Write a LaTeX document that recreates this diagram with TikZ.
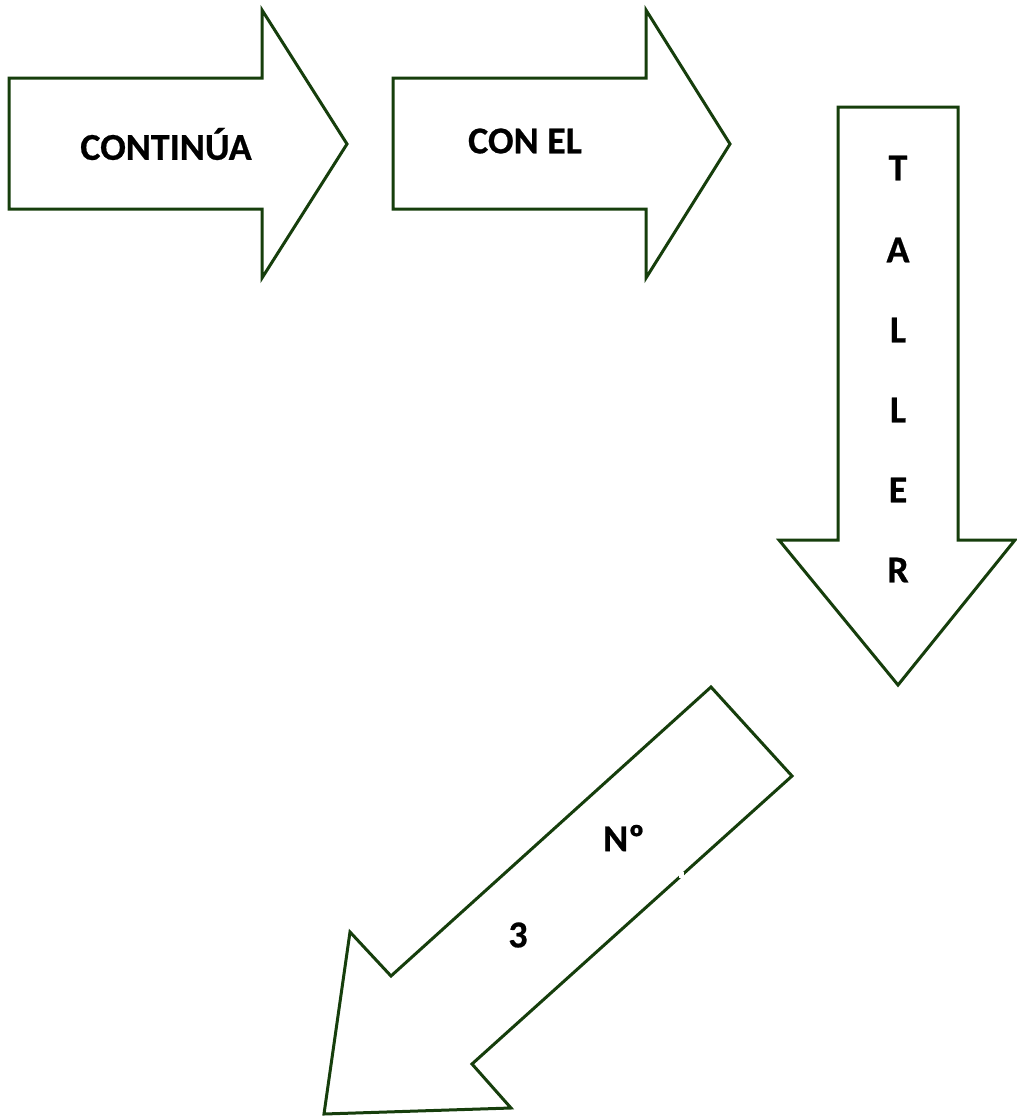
\documentclass[tikz,border=0pt]{standalone}
\usepackage{fontspec}
\setmainfont{Carlito}[BoldFeatures={FakeBold=0.6}]
\definecolor{arrowgreen}{RGB}{22,62,12}
\tikzset{
  arrowshape/.style={draw=arrowgreen, line width=3pt, fill=white, line join=miter},
  lbl/.style={font=\fontsize{38}{44}\selectfont\bfseries, text=black, inner sep=0pt}
}
\begin{document}
\begin{tikzpicture}[x=1pt,y=-1pt]
\useasboundingbox[fill=white] (0,0) rectangle (1017,1117);
% arrow 1
\draw[arrowshape] (9,78) -- (262,78) -- (262,10) -- (347,144) -- (262,278) -- (262,209) -- (9,209) -- cycle;
\node[lbl] (t1) at (166,144) {CONTINÚA};
% arrow 2
\draw[arrowshape] (393,78) -- (646,78) -- (646,10) -- (730,144) -- (646,278) -- (646,209) -- (393,209) -- cycle;
\node[lbl] (t2) at (525,141) {CON EL};
% arrow 3
\draw[arrowshape] (838,107) -- (958,107) -- (958,540) -- (1015,540) -- (898,685) -- (779,540) -- (838,540) -- cycle;
\node[lbl] (l1) at (898,168) {T};
\node[lbl] (l2) at (898,250) {A};
\node[lbl] (l3) at (898,330) {L};
\node[lbl] (l4) at (898,410) {L};
\node[lbl] (l5) at (898,490) {E};
\node[lbl] (l6) at (898,570) {R};
% arrow 4
\draw[arrowshape] (711,687) -- (792,776) -- (472,1064) -- (511,1108) -- (324,1114) -- (350,932) -- (391,976) -- cycle;
\fill[white] (679,872) rectangle (684,878);
\node[lbl] (n1) at (624,838) {Nº};
\node[lbl] (n2) at (518,935) {3};
\end{tikzpicture}
\end{document}
